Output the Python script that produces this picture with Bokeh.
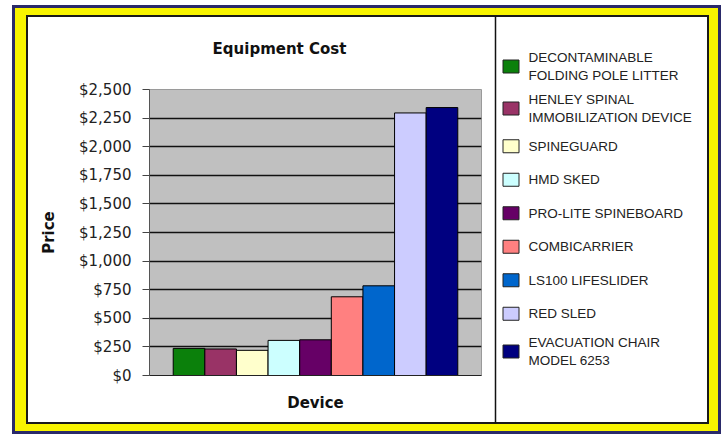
import textwrap
from bokeh.plotting import figure
from bokeh.layouts import row, column
from bokeh.models import (Range1d, FixedTicker, NumeralTickFormatter, ColumnDataSource, Spacer)
from bokeh.core.properties import value
from bokeh.embed import file_html
from bokeh.resources import INLINE

# ---------------- data ----------------
devices = [
    "DECONTAMINABLE FOLDING POLE LITTER",
    "HENLEY SPINAL IMMOBILIZATION DEVICE",
    "SPINEGUARD",
    "HMD SKED",
    "PRO-LITE SPINEBOARD",
    "COMBICARRIER",
    "LS100 LIFESLIDER",
    "RED SLED",
    "EVACUATION CHAIR MODEL 6253",
]
prices = [237, 232, 220, 307, 312, 688, 784, 2295, 2342]
colors = ["#0b800b", "#993366", "#ffffcc", "#ccffff", "#660066",
          "#ff8080", "#0066cc", "#ccccff", "#000080"]
y_ticks = [0, 250, 500, 750, 1000, 1250, 1500, 1750, 2000, 2250, 2500]
chart_title = "Equipment Cost"
x_title = "Device"
y_title = "Price"

# ---------------- chart ----------------
CW, CH = 467, 405
n = len(devices)
xs = [i + 1 for i in range(n)]
src = ColumnDataSource(dict(x=xs, top=prices, color=colors, name=devices))

p = figure(width=CW, height=CH, output_backend="svg", toolbar_location=None,
           x_range=Range1d(-0.25, n + 1.25), y_range=Range1d(0, 2500),
           min_border_left=121, min_border_right=14, min_border_top=72,
           min_border_bottom=47, background_fill_color="#c0c0c0",
           border_fill_color="white", outline_line_color="#9a9a9a")
p.vbar(x="x", top="top", width=1.0, fill_color="color", line_color="black",
       line_width=1, source=src)

ya = p.yaxis[0]
ya.ticker = FixedTicker(ticks=y_ticks)
ya.formatter = NumeralTickFormatter(format="$0,0")
ya.major_label_text_font = "DejaVu Sans"
ya.major_label_text_font_size = "15px"
ya.major_label_text_color = "#222222"
ya.major_tick_out = 7
ya.major_tick_in = 0
ya.minor_tick_out = 0
ya.minor_tick_in = 0
ya.major_tick_line_color = "#444444"
ya.axis_line_color = "#555555"
ya.major_label_standoff = 11
ya.axis_label = y_title
ya.axis_label_text_font = "DejaVu Sans"
ya.axis_label_text_font_size = "15px"
ya.axis_label_text_font_style = "bold"
ya.axis_label_text_color = "#111111"
ya.axis_label_standoff = 18

xa = p.xaxis[0]
xa.ticker = FixedTicker(ticks=[])
xa.major_tick_out = 0
xa.major_tick_in = 0
xa.minor_tick_out = 0
xa.axis_line_color = "#222222"
xa.axis_label = x_title
xa.axis_label_text_font = "DejaVu Sans"
xa.axis_label_text_font_size = "15px"
xa.axis_label_text_font_style = "bold"
xa.axis_label_text_color = "#111111"
xa.axis_label_standoff = 18

p.xgrid.visible = False
p.ygrid.ticker = FixedTicker(ticks=y_ticks[1:-1])
p.ygrid.grid_line_color = "#111111"
p.ygrid.grid_line_width = 1.5

inner = row(p, Spacer(width=212, height=CH),
            styles={"border": "2px solid #1a1a1a", "background-color": "white"})
outer = column(inner, styles={"border": "3px solid #2a2a6a",
                              "background-color": "#f8f400",
                              "padding": "7px 9px 7px 11px",
                              "margin-left": "12px", "margin-top": "5px"})

# ---------------- overlay: title, legend panel (window pixel space) ----------------
W, H = 724, 437
ov = figure(width=W, height=H, output_backend="svg", toolbar_location=None,
            x_range=Range1d(0, W), y_range=Range1d(H, 0), min_border=0,
            outline_line_color=None, background_fill_color=None,
            border_fill_color=None,
            styles={"position": "absolute", "left": "0px", "top": "0px",
                    "z-index": "10"})
ov.axis.visible = False
ov.grid.visible = False

# title
ov.text(x=[279], y=[48], text=[chart_title], text_font=value("DejaVu Sans"),
        text_font_size="15px", text_font_style="bold", text_align="center",
        text_baseline="middle", text_color="#111111")

# divider between plot and legend
ov.segment(x0=[495], y0=[16], x1=[495], y1=[423], line_color="#111111",
           line_width=1.5)

labels = ["\n".join(textwrap.wrap(d, 21)) for d in devices]
nlines = [lab.count("\n") + 1 for lab in labels]
heights = [33.5 if k == 1 else 42 for k in nlines]
ys = []
top = 45
for h in heights:
    ys.append(top + h / 2)
    top += h
lsrc = ColumnDataSource(dict(y=ys, label=labels, color=colors,
                             sx=[510.5] * n, tx=[528] * n))
ov.rect(x="sx", y="y", width=16, height=13, fill_color="color",
        line_color="#222222", line_width=1, source=lsrc)
ov.text(x="tx", y="y", text="label", text_font=value("Liberation Sans"),
        text_font_size="13.5px", text_baseline="middle", text_align="left",
        text_color="#222222", text_line_height=1.15, source=lsrc)

open("out.html", "w").write(file_html([outer, ov], INLINE))
